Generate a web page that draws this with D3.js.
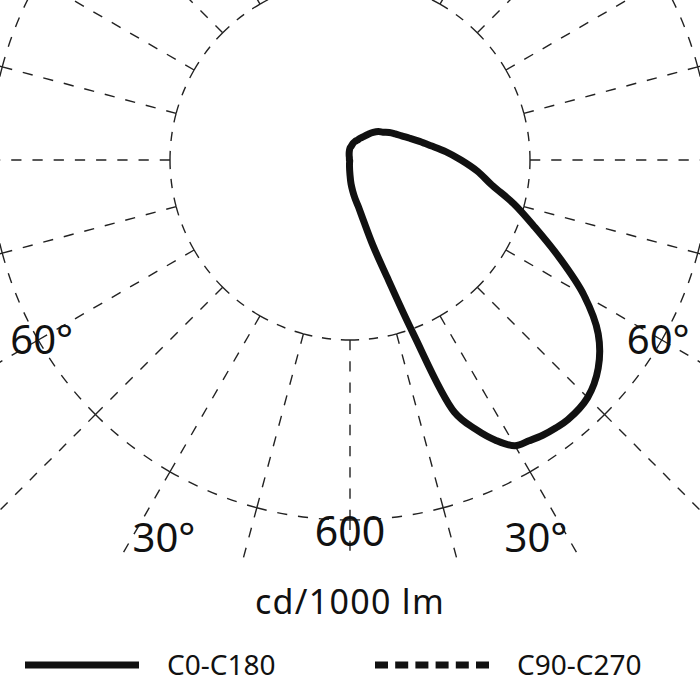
<!DOCTYPE html>
<html>
<head>
<meta charset="utf-8">
<script src="https://cdn.jsdelivr.net/npm/d3@7/dist/d3.min.js"></script>
<style>
  body { margin: 0; background: #fff; }
  svg text { font-family: "Noto Sans", sans-serif; fill: #111; }
</style>
</head>
<body>
<div id="chart"></div>
<script>
// luminous intensity, cd/1000 lm
const gammaC0 = [0, 2.5, 5, 7.5, 10, 12.5, 15, 17.5, 20, 22.5, 25, 27.5, 30, 32.5, 35, 37.5, 40,
    45, 50, 55, 60, 65, 70, 75, 80, 85, 90, 95, 100, 105, 110, 115, 120, 125, 130, 135, 140,
    145, 150, 155, 160, 165, 170, 175, 180];
const valuesC0 = [25, 40, 52, 65, 78, 103, 147, 203, 307, 455, 495, 527, 550, 555, 560, 563, 565,
    560, 540, 505, 450, 385, 328, 283, 240, 213, 185, 160, 137, 120, 106, 95, 87, 80, 72, 67, 60,
    52, 45, 40, 35, 32, 28, 23, 20];
const gammaC180 = [5, 10, 15, 30, 60, 90, 120, 150, 165, 170, 175];
const valuesC180 = [10, 4, 2, 1, 1, 1, 1, 2, 4, 8, 14];

// grid
const gridValues = [300, 600];
const gridAngles = d3.range(0, 360, 15);
const angleTicks = [60, 30];
const radiusTick = 600;
const unitLabel = "cd/1000 lm";
const legendNames = ["C0-C180", "C90-C270"];

const width = 700, height = 700;
const cx = 350, cy = 160;
const clipBottom = 560;

const svg = d3.select("#chart")
    .append("svg")
    .attr("width", width)
    .attr("height", height);

const r = d3.scaleLinear().domain([0, 600]).range([0, 360]);

// gamma measured from straight down, side = +1 for C0 (right), -1 for C180 (left)
function polar(gamma, value, side) {
    const a = gamma * Math.PI / 180;
    return [cx + side * r(value) * Math.sin(a), cy + r(value) * Math.cos(a)];
}

// dash pattern stretched so a segment starts and ends with a dash
function fitDash(len) {
    const d0 = 10, g0 = 10.7;
    const n = Math.max(1, Math.round((len + g0) / (d0 + g0)));
    const k = len / (n * d0 + (n - 1) * g0);
    return (d0 * k) + "," + (g0 * k);
}

svg.append("defs").append("clipPath")
    .attr("id", "clip")
    .append("rect")
    .attr("x", 0).attr("y", 0)
    .attr("width", width).attr("height", clipBottom);

const grid = svg.append("g")
    .attr("clip-path", "url(#clip)")
    .attr("fill", "none")
    .attr("stroke", "#222")
    .attr("stroke-width", 1.4);

// circles, drawn arc by arc between the spokes
gridValues.forEach(v => {
    gridAngles.forEach(a => {
        const p = d3.path();
        const a0 = a * Math.PI / 180, a1 = (a + 15) * Math.PI / 180;
        p.arc(cx, cy, r(v), a0, a1);
        grid.append("path")
            .attr("d", p.toString())
            .attr("stroke-dasharray", fitDash(r(v) * Math.PI / 12));
    });
});

// spokes: inner ring to outer ring, then outward past the edge
gridAngles.forEach(a => {
    const p0 = polar(a, gridValues[0], 1);
    const p1 = polar(a, gridValues[1], 1);
    const p2 = polar(a, 1800, 1);
    grid.append("line")
        .attr("x1", p0[0]).attr("y1", p0[1])
        .attr("x2", p1[0]).attr("y2", p1[1])
        .attr("stroke-dasharray", fitDash(r(gridValues[1]) - r(gridValues[0])));
    grid.append("line")
        .attr("x1", p1[0]).attr("y1", p1[1])
        .attr("x2", p2[0]).attr("y2", p2[1])
        .attr("stroke-dasharray", "10,10.7");
});

// intensity curve C0-C180
const pts = gammaC0.map((g, i) => [(180 - g) * Math.PI / 180, r(valuesC0[i])])
    .concat(gammaC180.slice().reverse().map((g, i) => {
        const j = gammaC180.length - 1 - i;
        return [(g - 180) * Math.PI / 180, r(valuesC180[j])];
    }));

const line = d3.lineRadial()
    .angle(d => d[0])
    .radius(d => d[1])
    .curve(d3.curveCatmullRomClosed.alpha(0.5));

svg.append("path")
    .attr("transform", `translate(${cx},${cy})`)
    .attr("d", line(pts))
    .attr("fill", "none")
    .attr("stroke", "#111")
    .attr("stroke-width", 7)
    .attr("stroke-linejoin", "round");

// labels
const tickPlace = { 60: [59.7, 595], 30: [26.2, 702] };
angleTicks.forEach(t => {
    [-1, 1].forEach(side => {
        const p = polar(tickPlace[t][0], tickPlace[t][1], side);
        svg.append("text")
            .attr("x", p[0]).attr("y", p[1])
            .attr("dy", "0.35em")
            .attr("text-anchor", "middle")
            .style("font-size", "40px")
            .text(t + "°");
    });
});

const pr = polar(0, 620, 1);
svg.append("text")
    .attr("x", pr[0]).attr("y", pr[1])
    .attr("dy", "0.35em")
    .attr("text-anchor", "middle")
    .style("font-size", "41px")
    .text(radiusTick);

svg.append("text")
    .attr("x", cx).attr("y", 614)
    .attr("text-anchor", "middle")
    .style("font-size", "34px")
    .style("letter-spacing", "1.3px")
    .text(unitLabel);

// legend
const legend = svg.append("g");
const legendX = [25, 375];
legendNames.forEach((name, i) => {
    legend.append("line")
        .attr("x1", legendX[i]).attr("x2", legendX[i] + 114)
        .attr("y1", 665).attr("y2", 665)
        .attr("stroke", "#111")
        .attr("stroke-width", 7)
        .attr("stroke-dasharray", i === 0 ? null : "13,7.2");
    legend.append("text")
        .attr("x", legendX[i] + 142)
        .attr("y", 675)
        .style("font-size", "28px")
        .text(name);
});
</script>
</body>
</html>
